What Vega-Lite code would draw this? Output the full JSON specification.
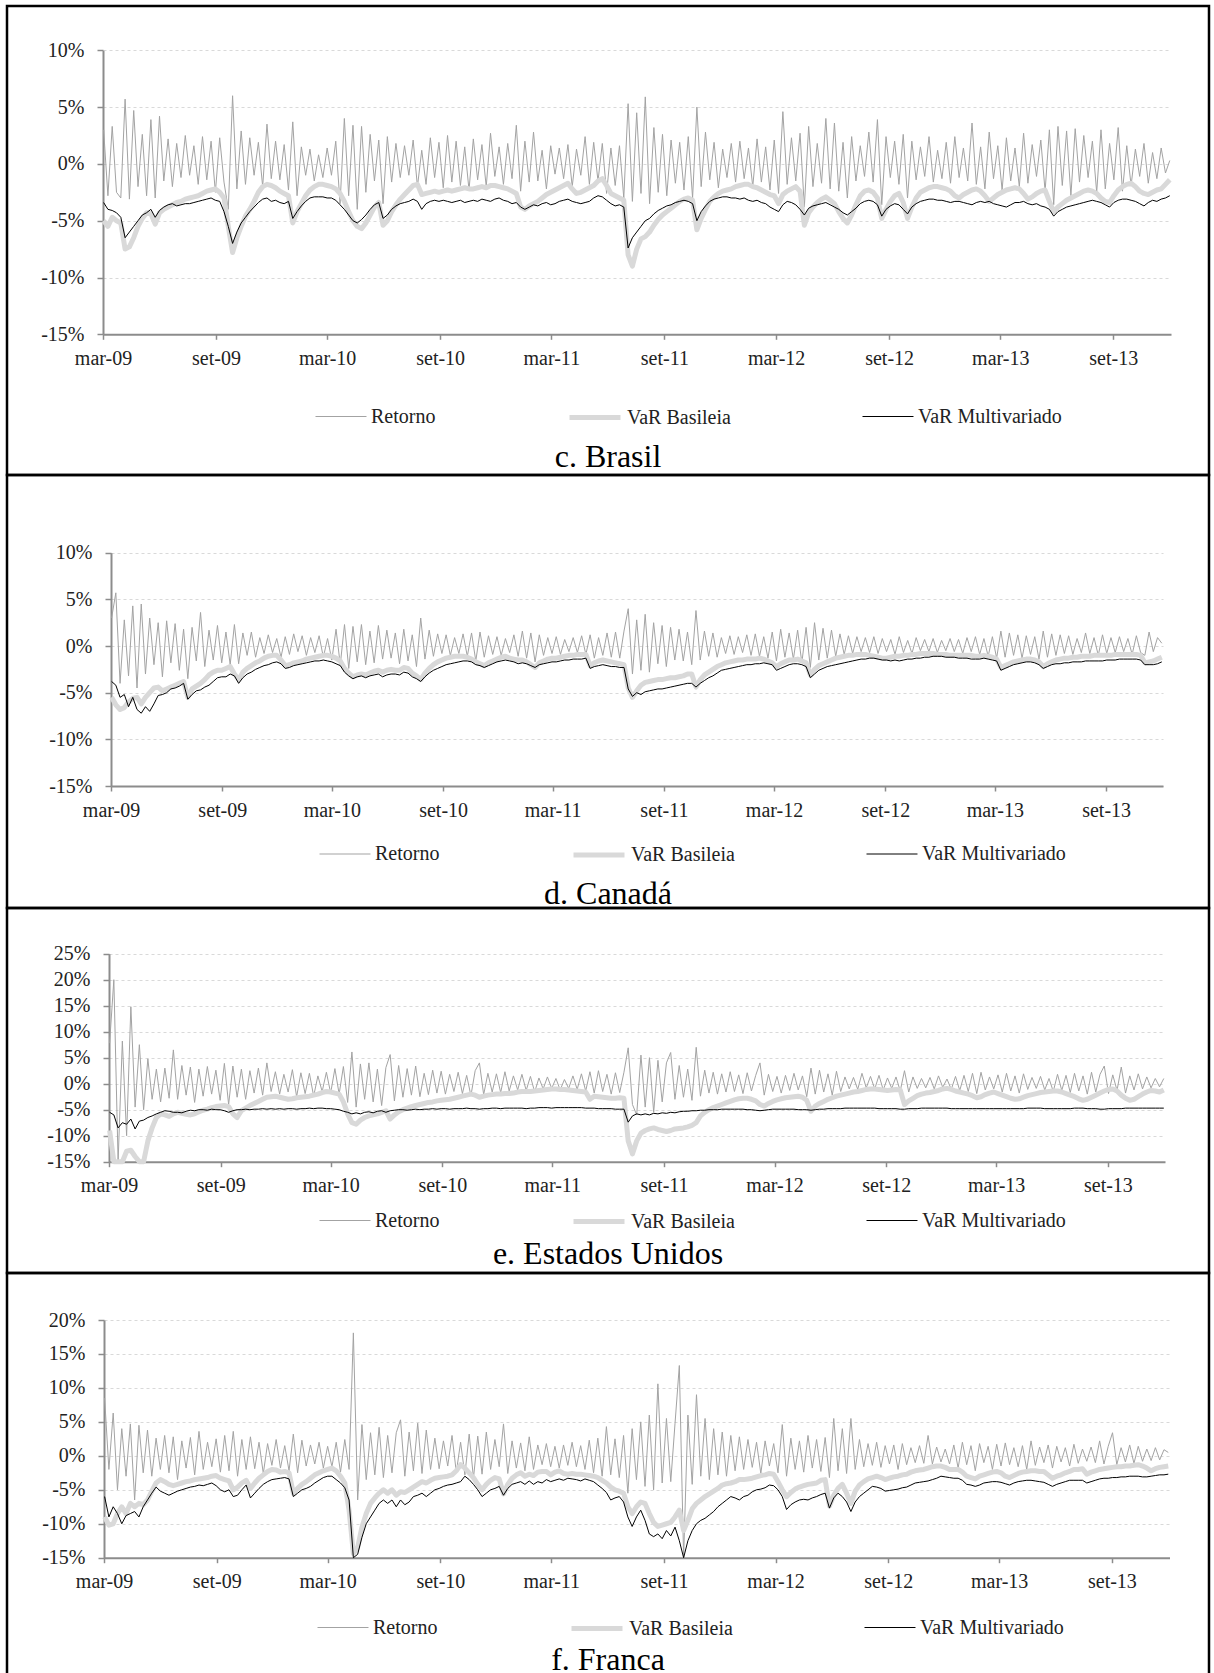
{
"$schema": "https://vega.github.io/schema/vega-lite/v6.json",
"background": "white",
"padding": {"left": 5, "top": 4, "right": 0, "bottom": 0},
"spacing": 0,
"bounds": "flush",
"resolve": {"scale": {"color": "independent", "strokeWidth": "independent"}, "legend": {"color": "independent", "strokeWidth": "independent"}},
"data": {"values": [
{"d":"2009-03-02","cr":3.0,"cb":-5.0,"cm":-3.4,"dr":3.0,"db":-5.5,"dm":-3.8,"er":7.8,"eb":-9.0,"em":-5.5,"fr":8.5,"fb":-9.0,"fm":-6.0},
{"d":"2009-03-09","cr":-2.8,"cb":-5.5,"cm":-4.0,"dr":5.7,"db":-6.3,"dm":-4.2,"er":20.0,"eb":-18.0,"em":-6.0,"fr":-2.0,"fb":-10.2,"fm":-9.0},
{"d":"2009-03-16","cr":3.3,"cb":-4.7,"cm":-4.1,"dr":-4.0,"db":-6.8,"dm":-5.5,"er":-15.5,"eb":-20.0,"em":-8.5,"fr":6.3,"fb":-10.0,"fm":-7.5},
{"d":"2009-03-23","cr":-2.5,"cb":-5.0,"cm":-4.3,"dr":2.8,"db":-6.6,"dm":-5.2,"er":8.2,"eb":-16.0,"em":-7.5,"fr":-5.0,"fb":-8.5,"fm":-8.5},
{"d":"2009-03-30","cr":-3.0,"cb":-5.2,"cm":-4.7,"dr":-3.2,"db":-6.0,"dm":-6.5,"er":-10.0,"eb":-13.0,"em":-7.8,"fr":4.0,"fb":-7.5,"fm":-10.0},
{"d":"2009-04-06","cr":5.7,"cb":-7.5,"cm":-6.5,"dr":4.3,"db":-5.6,"dm":-5.5,"er":14.8,"eb":-12.8,"em":-6.8,"fr":-3.0,"fb":-8.5,"fm":-8.8},
{"d":"2009-04-13","cr":-3.1,"cb":-7.3,"cm":-6.0,"dr":-4.5,"db":-5.5,"dm":-6.8,"er":-4.5,"eb":-14.0,"em":-8.7,"fr":4.7,"fb":-7.0,"fm":-8.5},
{"d":"2009-04-20","cr":4.7,"cb":-6.5,"cm":-5.5,"dr":4.5,"db":-6.2,"dm":-7.2,"er":7.5,"eb":-17.0,"em":-7.2,"fr":-6.5,"fb":-7.5,"fm":-8.2},
{"d":"2009-04-27","cr":-2.0,"cb":-5.5,"cm":-5.0,"dr":-3.0,"db":-5.5,"dm":-6.5,"er":-5.0,"eb":-15.5,"em":-7.0,"fr":4.5,"fb":-7.0,"fm":-9.0},
{"d":"2009-05-04","cr":2.6,"cb":-4.8,"cm":-4.5,"dr":3.0,"db":-5.0,"dm":-7.0,"er":4.8,"eb":-11.0,"em":-6.5,"fr":-2.5,"fb":-7.2,"fm":-7.5},
{"d":"2009-05-11","cr":-2.8,"cb":-4.3,"cm":-4.3,"dr":-2.0,"db":-4.5,"dm":-6.2,"er":-3.0,"eb":-8.5,"em":-6.2,"fr":3.8,"fb":-6.5,"fm":-6.5},
{"d":"2009-05-18","cr":3.9,"cb":-4.4,"cm":-4.0,"dr":2.5,"db":-4.4,"dm":-5.3,"er":2.8,"eb":-6.5,"em":-5.8,"fr":-3.0,"fb":-5.2,"fm":-5.5},
{"d":"2009-05-25","cr":-3.0,"cb":-5.3,"cm":-4.7,"dr":-3.3,"db":-4.8,"dm":-5.2,"er":-3.5,"eb":-5.8,"em":-5.5,"fr":2.6,"fb":-4.0,"fm":-4.6},
{"d":"2009-06-01","cr":4.2,"cb":-4.3,"cm":-4.1,"dr":2.7,"db":-4.6,"dm":-5.0,"er":3.0,"eb":-6.0,"em":-5.2,"fr":-2.0,"fb":-3.5,"fm":-5.2},
{"d":"2009-06-08","cr":-1.5,"cb":-4.0,"cm":-3.8,"dr":-1.8,"db":-4.4,"dm":-4.6,"er":-2.8,"eb":-6.3,"em":-5.3,"fr":3.0,"fb":-3.8,"fm":-5.5},
{"d":"2009-06-15","cr":2.2,"cb":-3.8,"cm":-3.6,"dr":2.4,"db":-4.2,"dm":-4.5,"er":6.5,"eb":-5.8,"em":-5.5,"fr":-2.5,"fb":-4.2,"fm":-5.8},
{"d":"2009-06-22","cr":-2.0,"cb":-3.6,"cm":-3.5,"dr":-2.6,"db":-4.0,"dm":-4.3,"er":-3.0,"eb":-5.5,"em":-5.5,"fr":2.8,"fb":-4.4,"fm":-5.5},
{"d":"2009-06-29","cr":1.8,"cb":-3.4,"cm":-3.7,"dr":1.8,"db":-3.8,"dm":-4.0,"er":3.5,"eb":-5.7,"em":-5.6,"fr":-3.5,"fb":-4.2,"fm":-5.2},
{"d":"2009-07-06","cr":-1.2,"cb":-3.3,"cm":-3.6,"dr":-3.5,"db":-5.5,"dm":-5.7,"er":-2.2,"eb":-5.9,"em":-5.3,"fr":2.2,"fb":-4.0,"fm":-5.0},
{"d":"2009-07-13","cr":2.5,"cb":-3.1,"cm":-3.5,"dr":2.0,"db":-4.6,"dm":-5.2,"er":3.2,"eb":-6.0,"em":-5.1,"fr":-1.8,"fb":-3.8,"fm":-4.8},
{"d":"2009-07-20","cr":-1.0,"cb":-3.0,"cm":-3.5,"dr":-1.6,"db":-4.3,"dm":-4.8,"er":-3.6,"eb":-5.8,"em":-5.2,"fr":2.7,"fb":-3.7,"fm":-4.6},
{"d":"2009-07-27","cr":1.6,"cb":-2.9,"cm":-3.4,"dr":3.6,"db":-4.0,"dm":-4.7,"er":2.8,"eb":-5.4,"em":-5.0,"fr":-2.8,"fb":-3.5,"fm":-4.5},
{"d":"2009-08-03","cr":-1.8,"cb":-2.8,"cm":-3.3,"dr":-2.2,"db":-3.6,"dm":-4.4,"er":-2.4,"eb":-5.1,"em":-5.0,"fr":3.6,"fb":-3.4,"fm":-4.3},
{"d":"2009-08-10","cr":2.4,"cb":-2.6,"cm":-3.2,"dr":1.7,"db":-3.1,"dm":-4.2,"er":3.3,"eb":-4.9,"em":-5.1,"fr":-2.0,"fb":-3.3,"fm":-4.4},
{"d":"2009-08-17","cr":-1.4,"cb":-2.4,"cm":-3.1,"dr":-1.5,"db":-2.8,"dm":-3.8,"er":-2.0,"eb":-4.6,"em":-4.9,"fr":2.0,"fb":-3.2,"fm":-4.2},
{"d":"2009-08-24","cr":2.0,"cb":-2.3,"cm":-3.0,"dr":2.2,"db":-2.6,"dm":-3.4,"er":2.6,"eb":-4.4,"em":-5.0,"fr":-1.6,"fb":-3.0,"fm":-4.0},
{"d":"2009-08-31","cr":-2.5,"cb":-2.2,"cm":-3.2,"dr":-1.8,"db":-2.6,"dm":-3.3,"er":-3.2,"eb":-4.3,"em":-5.0,"fr":2.5,"fb":-2.9,"fm":-4.4},
{"d":"2009-09-07","cr":2.3,"cb":-2.5,"cm":-3.3,"dr":1.5,"db":-2.4,"dm":-3.3,"er":3.9,"eb":-4.2,"em":-5.2,"fr":-2.4,"fb":-3.3,"fm":-5.0},
{"d":"2009-09-14","cr":-1.6,"cb":-3.0,"cm":-4.2,"dr":-2.0,"db":-2.2,"dm":-3.0,"er":-4.0,"eb":-4.4,"em":-5.5,"fr":3.0,"fb":-3.5,"fm":-5.3},
{"d":"2009-09-21","cr":-4.0,"cb":-5.5,"cm":-5.5,"dr":2.3,"db":-3.0,"dm":-3.2,"er":3.4,"eb":-5.8,"em":-5.2,"fr":-2.2,"fb":-3.7,"fm":-5.0},
{"d":"2009-09-28","cr":6.0,"cb":-7.8,"cm":-7.0,"dr":-1.9,"db":-3.6,"dm":-4.0,"er":-2.6,"eb":-6.5,"em":-5.0,"fr":3.6,"fb":-5.0,"fm":-6.0},
{"d":"2009-10-05","cr":-2.2,"cb":-6.5,"cm":-6.0,"dr":1.4,"db":-2.8,"dm":-3.4,"er":2.8,"eb":-5.2,"em":-5.0,"fr":-3.0,"fb":-4.6,"fm":-5.8},
{"d":"2009-10-12","cr":2.9,"cb":-5.5,"cm":-5.2,"dr":-1.0,"db":-2.4,"dm":-3.0,"er":-3.0,"eb":-4.7,"em":-4.9,"fr":2.4,"fb":-4.0,"fm":-5.0},
{"d":"2009-10-19","cr":-1.8,"cb":-4.6,"cm":-4.7,"dr":1.5,"db":-2.1,"dm":-2.8,"er":2.5,"eb":-4.2,"em":-5.0,"fr":-2.0,"fb":-3.6,"fm":-4.3},
{"d":"2009-10-26","cr":2.3,"cb":-4.0,"cm":-4.2,"dr":-1.2,"db":-1.8,"dm":-2.5,"er":-1.8,"eb":-3.8,"em":-4.9,"fr":2.8,"fb":-4.8,"fm":-6.2},
{"d":"2009-11-02","cr":-1.0,"cb":-3.3,"cm":-3.8,"dr":0.9,"db":-1.6,"dm":-2.3,"er":3.0,"eb":-3.4,"em":-4.9,"fr":-1.9,"fb":-4.0,"fm":-5.5},
{"d":"2009-11-09","cr":1.9,"cb":-2.5,"cm":-3.4,"dr":-0.8,"db":-1.3,"dm":-2.1,"er":-2.2,"eb":-3.0,"em":-4.8,"fr":2.0,"fb":-3.3,"fm":-4.8},
{"d":"2009-11-16","cr":-2.0,"cb":-2.0,"cm":-3.1,"dr":1.2,"db":-1.1,"dm":-2.0,"er":4.0,"eb":-2.6,"em":-4.9,"fr":-2.6,"fb":-2.8,"fm":-4.2},
{"d":"2009-11-23","cr":3.5,"cb":-1.8,"cm":-3.0,"dr":-0.7,"db":-1.0,"dm":-1.8,"er":-1.5,"eb":-2.5,"em":-4.8,"fr":1.8,"fb":-2.3,"fm":-3.8},
{"d":"2009-11-30","cr":-1.3,"cb":-1.9,"cm":-3.3,"dr":0.8,"db":-1.0,"dm":-1.7,"er":2.3,"eb":-2.4,"em":-4.9,"fr":-1.4,"fb":-2.0,"fm":-3.5},
{"d":"2009-12-07","cr":2.0,"cb":-2.1,"cm":-3.2,"dr":-1.2,"db":-1.5,"dm":-1.9,"er":-2.0,"eb":-2.6,"em":-4.8,"fr":2.4,"fb":-2.1,"fm":-3.4},
{"d":"2009-12-14","cr":-1.4,"cb":-2.4,"cm":-3.4,"dr":1.0,"db":-2.1,"dm":-2.4,"er":1.8,"eb":-2.8,"em":-4.9,"fr":-1.8,"fb":-2.4,"fm":-3.3},
{"d":"2009-12-21","cr":1.7,"cb":-2.6,"cm":-3.5,"dr":-0.9,"db":-2.0,"dm":-2.3,"er":-1.6,"eb":-3.0,"em":-4.8,"fr":1.5,"fb":-2.3,"fm":-3.2},
{"d":"2009-12-28","cr":-2.3,"cb":-2.8,"cm":-3.3,"dr":1.3,"db":-1.8,"dm":-2.1,"er":2.7,"eb":-2.9,"em":-4.8,"fr":-2.2,"fb":-2.5,"fm":-3.4},
{"d":"2010-01-04","cr":3.7,"cb":-5.2,"cm":-4.8,"dr":-0.6,"db":-1.7,"dm":-2.0,"er":-2.5,"eb":-2.7,"em":-4.9,"fr":3.2,"fb":-5.5,"fm":-6.0},
{"d":"2010-01-11","cr":-2.8,"cb":-4.2,"cm":-4.2,"dr":1.1,"db":-1.6,"dm":-1.9,"er":2.1,"eb":-2.6,"em":-4.8,"fr":-2.5,"fb":-4.8,"fm":-5.5},
{"d":"2010-01-18","cr":1.5,"cb":-3.5,"cm":-3.7,"dr":-1.0,"db":-1.4,"dm":-1.8,"er":-1.9,"eb":-2.5,"em":-4.8,"fr":2.3,"fb":-4.2,"fm":-5.0},
{"d":"2010-01-25","cr":-1.0,"cb":-2.8,"cm":-3.3,"dr":0.9,"db":-1.3,"dm":-1.7,"er":2.0,"eb":-2.4,"em":-4.7,"fr":-1.5,"fb":-3.8,"fm":-4.8},
{"d":"2010-02-01","cr":1.3,"cb":-2.3,"cm":-3.0,"dr":-0.7,"db":-1.2,"dm":-1.6,"er":-2.4,"eb":-2.2,"em":-4.8,"fr":1.6,"fb":-3.3,"fm":-4.5},
{"d":"2010-02-08","cr":-1.5,"cb":-2.0,"cm":-2.9,"dr":1.1,"db":-1.1,"dm":-1.6,"er":1.5,"eb":-2.0,"em":-4.7,"fr":-1.2,"fb":-2.8,"fm":-4.0},
{"d":"2010-02-15","cr":0.8,"cb":-1.8,"cm":-2.9,"dr":-1.2,"db":-1.0,"dm":-1.5,"er":-1.5,"eb":-1.7,"em":-4.7,"fr":2.0,"fb":-2.5,"fm":-3.6},
{"d":"2010-02-22","cr":-1.2,"cb":-1.8,"cm":-2.9,"dr":0.8,"db":-1.0,"dm":-1.6,"er":2.2,"eb":-1.5,"em":-4.8,"fr":-1.8,"fb":-2.2,"fm":-3.2},
{"d":"2010-03-01","cr":1.4,"cb":-1.9,"cm":-3.0,"dr":-1.5,"db":-1.1,"dm":-1.7,"er":-1.8,"eb":-1.6,"em":-4.8,"fr":1.4,"fb":-2.0,"fm":-3.0},
{"d":"2010-03-08","cr":-1.0,"cb":-2.0,"cm":-3.0,"dr":1.8,"db":-1.3,"dm":-1.9,"er":2.9,"eb":-1.8,"em":-4.9,"fr":-1.6,"fb":-1.8,"fm":-3.0},
{"d":"2010-03-15","cr":2.0,"cb":-2.2,"cm":-3.2,"dr":-2.0,"db":-1.6,"dm":-2.1,"er":-2.0,"eb":-2.0,"em":-5.0,"fr":2.0,"fb":-2.2,"fm":-3.5},
{"d":"2010-03-22","cr":-3.5,"cb":-2.6,"cm":-3.6,"dr":2.3,"db":-2.4,"dm":-2.8,"er":3.3,"eb":-3.5,"em":-5.3,"fr":-2.4,"fb":-3.0,"fm":-4.0},
{"d":"2010-03-29","cr":4.0,"cb":-3.3,"cm":-4.0,"dr":-2.4,"db":-2.9,"dm":-3.2,"er":-3.6,"eb":-5.8,"em":-5.5,"fr":2.4,"fb":-4.0,"fm":-4.7},
{"d":"2010-04-05","cr":-2.8,"cb":-4.2,"cm":-4.5,"dr":2.1,"db":-3.3,"dm":-3.5,"er":6.1,"eb":-7.5,"em":-5.8,"fr":-2.0,"fb":-8.0,"fm":-6.5},
{"d":"2010-04-12","cr":3.4,"cb":-5.0,"cm":-5.0,"dr":-1.7,"db":-3.1,"dm":-3.3,"er":-4.5,"eb":-7.8,"em":-5.6,"fr":18.1,"fb":-14.4,"fm":-15.0},
{"d":"2010-04-19","cr":-4.0,"cb":-5.5,"cm":-5.2,"dr":2.3,"db":-3.0,"dm":-3.2,"er":3.8,"eb":-7.0,"em":-5.8,"fr":-6.5,"fb":-13.5,"fm":-14.5},
{"d":"2010-04-26","cr":3.3,"cb":-5.7,"cm":-4.9,"dr":-2.0,"db":-3.1,"dm":-3.4,"er":-3.0,"eb":-6.5,"em":-5.5,"fr":4.6,"fb":-10.5,"fm":-12.0},
{"d":"2010-05-03","cr":-2.5,"cb":-5.2,"cm":-4.5,"dr":1.6,"db":-2.9,"dm":-3.2,"er":4.0,"eb":-6.2,"em":-5.4,"fr":-3.5,"fb":-8.5,"fm":-10.0},
{"d":"2010-05-10","cr":2.6,"cb":-4.5,"cm":-4.0,"dr":-1.8,"db":-2.7,"dm":-3.1,"er":-3.5,"eb":-6.0,"em":-5.6,"fr":3.4,"fb":-7.0,"fm":-9.0},
{"d":"2010-05-17","cr":-1.5,"cb":-3.8,"cm":-3.6,"dr":2.2,"db":-2.6,"dm":-3.0,"er":2.8,"eb":-5.8,"em":-5.3,"fr":-2.8,"fb":-6.2,"fm":-8.0},
{"d":"2010-05-24","cr":2.1,"cb":-3.4,"cm":-3.4,"dr":-1.4,"db":-2.8,"dm":-3.3,"er":-4.2,"eb":-5.5,"em":-5.2,"fr":4.2,"fb":-5.5,"fm":-7.0},
{"d":"2010-05-31","cr":-3.5,"cb":-5.4,"cm":-4.8,"dr":1.7,"db":-2.6,"dm":-3.1,"er":3.1,"eb":-5.2,"em":-5.5,"fr":-3.2,"fb":-5.0,"fm":-6.5},
{"d":"2010-06-07","cr":2.4,"cb":-5.0,"cm":-4.5,"dr":-1.3,"db":-2.5,"dm":-3.0,"er":5.6,"eb":-6.8,"em":-5.2,"fr":3.0,"fb":-5.5,"fm":-7.0},
{"d":"2010-06-14","cr":-1.6,"cb":-4.2,"cm":-4.0,"dr":1.4,"db":-2.6,"dm":-3.0,"er":-3.3,"eb":-6.0,"em":-5.1,"fr":-2.5,"fb":-5.0,"fm":-6.5},
{"d":"2010-06-21","cr":1.8,"cb":-3.6,"cm":-3.7,"dr":-1.9,"db":-2.6,"dm":-3.1,"er":3.5,"eb":-5.4,"em":-5.0,"fr":3.4,"fb":-5.8,"fm":-7.5},
{"d":"2010-06-28","cr":-1.2,"cb":-3.1,"cm":-3.5,"dr":1.8,"db":-2.3,"dm":-2.8,"er":-2.6,"eb":-5.0,"em":-5.0,"fr":5.3,"fb":-5.3,"fm":-6.5},
{"d":"2010-07-05","cr":1.6,"cb":-2.7,"cm":-3.4,"dr":-1.6,"db":-2.4,"dm":-2.9,"er":2.9,"eb":-4.7,"em":-5.1,"fr":-3.0,"fb":-5.4,"fm":-7.2},
{"d":"2010-07-12","cr":-1.0,"cb":-2.3,"cm":-3.3,"dr":1.2,"db":-2.9,"dm":-3.3,"er":-2.2,"eb":-4.4,"em":-5.0,"fr":3.5,"fb":-5.0,"fm":-6.8},
{"d":"2010-07-19","cr":2.1,"cb":-1.9,"cm":-3.1,"dr":-2.2,"db":-3.2,"dm":-3.5,"er":3.4,"eb":-4.2,"em":-4.9,"fr":-2.2,"fb":-4.6,"fm":-6.0},
{"d":"2010-07-26","cr":-2.0,"cb":-1.8,"cm":-3.3,"dr":3.0,"db":-3.6,"dm":-3.8,"er":-2.5,"eb":-4.0,"em":-5.0,"fr":4.8,"fb":-4.2,"fm":-5.8},
{"d":"2010-08-02","cr":1.2,"cb":-2.7,"cm":-4.0,"dr":-1.4,"db":-2.9,"dm":-3.3,"er":2.0,"eb":-3.8,"em":-4.9,"fr":-2.6,"fb":-3.8,"fm":-5.5},
{"d":"2010-08-09","cr":-1.8,"cb":-2.6,"cm":-3.5,"dr":1.7,"db":-2.4,"dm":-2.9,"er":-2.1,"eb":-3.6,"em":-4.9,"fr":3.8,"fb":-4.0,"fm":-6.0},
{"d":"2010-08-16","cr":2.3,"cb":-2.5,"cm":-3.3,"dr":-1.1,"db":-2.0,"dm":-2.6,"er":2.6,"eb":-3.5,"em":-4.8,"fr":-2.0,"fb":-3.6,"fm":-5.5},
{"d":"2010-08-23","cr":-1.2,"cb":-2.4,"cm":-3.2,"dr":1.3,"db":-1.7,"dm":-2.4,"er":-1.8,"eb":-3.3,"em":-4.9,"fr":2.6,"fb":-3.3,"fm":-5.0},
{"d":"2010-08-30","cr":1.9,"cb":-2.5,"cm":-3.3,"dr":-0.8,"db":-1.5,"dm":-2.2,"er":2.4,"eb":-3.2,"em":-4.8,"fr":-1.9,"fb":-3.2,"fm":-4.8},
{"d":"2010-09-06","cr":-2.1,"cb":-2.4,"cm":-3.2,"dr":1.2,"db":-1.3,"dm":-2.0,"er":-2.0,"eb":-3.1,"em":-4.8,"fr":2.2,"fb":-3.1,"fm":-4.5},
{"d":"2010-09-13","cr":2.5,"cb":-2.3,"cm":-3.3,"dr":-1.0,"db":-1.2,"dm":-1.9,"er":1.8,"eb":-3.0,"em":-4.9,"fr":-1.5,"fb":-3.0,"fm":-4.3},
{"d":"2010-09-20","cr":-1.6,"cb":-2.4,"cm":-3.4,"dr":0.9,"db":-1.1,"dm":-1.8,"er":-1.5,"eb":-2.8,"em":-4.8,"fr":3.0,"fb":-2.8,"fm":-4.2},
{"d":"2010-09-27","cr":2.0,"cb":-2.3,"cm":-3.3,"dr":-0.8,"db":-1.1,"dm":-1.7,"er":2.2,"eb":-2.6,"em":-4.8,"fr":-2.4,"fb":-2.2,"fm":-4.0},
{"d":"2010-10-04","cr":-1.9,"cb":-2.2,"cm":-3.2,"dr":1.3,"db":-1.1,"dm":-1.6,"er":-1.9,"eb":-2.4,"em":-4.8,"fr":2.0,"fb":-1.3,"fm":-3.8},
{"d":"2010-10-11","cr":1.5,"cb":-2.1,"cm":-3.4,"dr":-1.1,"db":-1.2,"dm":-1.6,"er":1.6,"eb":-2.2,"em":-4.7,"fr":-2.8,"fb":-1.8,"fm":-3.0},
{"d":"2010-10-18","cr":-2.3,"cb":-2.2,"cm":-3.3,"dr":1.4,"db":-1.4,"dm":-1.7,"er":-2.3,"eb":-2.0,"em":-4.8,"fr":3.2,"fb":-2.5,"fm":-3.5},
{"d":"2010-10-25","cr":2.2,"cb":-2.2,"cm":-3.2,"dr":-1.6,"db":-1.7,"dm":-2.0,"er":2.5,"eb":-2.2,"em":-4.8,"fr":-3.3,"fb":-3.2,"fm":-4.2},
{"d":"2010-11-01","cr":-1.4,"cb":-2.1,"cm":-3.3,"dr":1.5,"db":-1.9,"dm":-2.1,"er":4.0,"eb":-2.6,"em":-4.9,"fr":2.9,"fb":-4.2,"fm":-5.0},
{"d":"2010-11-08","cr":1.7,"cb":-2.0,"cm":-3.1,"dr":-1.2,"db":-2.1,"dm":-2.3,"er":-2.1,"eb":-2.4,"em":-4.8,"fr":-2.7,"fb":-5.0,"fm":-6.0},
{"d":"2010-11-15","cr":-2.0,"cb":-2.1,"cm":-3.2,"dr":1.1,"db":-1.8,"dm":-2.1,"er":2.0,"eb":-2.2,"em":-4.8,"fr":3.5,"fb":-4.2,"fm":-5.5},
{"d":"2010-11-22","cr":2.7,"cb":-1.9,"cm":-3.3,"dr":-0.9,"db":-1.6,"dm":-1.9,"er":-1.6,"eb":-2.1,"em":-4.7,"fr":-2.0,"fb":-3.6,"fm":-5.0},
{"d":"2010-11-29","cr":-1.1,"cb":-1.9,"cm":-3.1,"dr":1.0,"db":-1.4,"dm":-1.7,"er":1.9,"eb":-2.0,"em":-4.7,"fr":2.4,"fb":-3.2,"fm":-4.8},
{"d":"2010-12-06","cr":1.5,"cb":-2.0,"cm":-3.0,"dr":-1.0,"db":-1.2,"dm":-1.6,"er":-1.7,"eb":-2.0,"em":-4.8,"fr":-1.6,"fb":-3.4,"fm":-4.5},
{"d":"2010-12-13","cr":-1.8,"cb":-2.1,"cm":-3.2,"dr":0.8,"db":-1.1,"dm":-1.5,"er":2.3,"eb":-1.9,"em":-4.7,"fr":4.7,"fb":-5.6,"fm":-5.8},
{"d":"2010-12-20","cr":1.8,"cb":-2.2,"cm":-3.3,"dr":-0.7,"db":-1.3,"dm":-1.6,"er":-1.4,"eb":-1.9,"em":-4.7,"fr":-2.6,"fb":-4.2,"fm":-4.8},
{"d":"2010-12-27","cr":-1.3,"cb":-2.4,"cm":-3.5,"dr":1.2,"db":-1.4,"dm":-1.7,"er":1.5,"eb":-1.8,"em":-4.7,"fr":2.2,"fb":-3.3,"fm":-4.2},
{"d":"2011-01-03","cr":3.4,"cb":-2.6,"cm":-3.4,"dr":-1.1,"db":-1.5,"dm":-1.9,"er":-1.2,"eb":-1.6,"em":-4.7,"fr":-1.8,"fb":-2.8,"fm":-4.0},
{"d":"2011-01-10","cr":-2.4,"cb":-3.8,"cm":-3.8,"dr":1.6,"db":-1.5,"dm":-1.8,"er":1.8,"eb":-1.5,"em":-4.7,"fr":1.9,"fb":-2.5,"fm":-3.8},
{"d":"2011-01-17","cr":2.0,"cb":-4.0,"cm":-4.0,"dr":-1.3,"db":-1.7,"dm":-1.9,"er":-1.3,"eb":-1.5,"em":-4.8,"fr":-2.2,"fb":-3.0,"fm":-4.2},
{"d":"2011-01-24","cr":-1.6,"cb":-3.7,"cm":-3.8,"dr":1.4,"db":-2.0,"dm":-2.1,"er":1.4,"eb":-1.5,"em":-4.7,"fr":2.8,"fb":-2.7,"fm":-3.7},
{"d":"2011-01-31","cr":2.8,"cb":-3.5,"cm":-3.6,"dr":-1.7,"db":-2.3,"dm":-2.3,"er":-1.6,"eb":-1.4,"em":-4.7,"fr":-2.0,"fb":-2.9,"fm":-4.2},
{"d":"2011-02-07","cr":-1.5,"cb":-3.3,"cm":-3.7,"dr":1.2,"db":-1.8,"dm":-2.0,"er":1.1,"eb":-1.3,"em":-4.6,"fr":1.6,"fb":-2.4,"fm":-3.8},
{"d":"2011-02-14","cr":1.2,"cb":-3.0,"cm":-3.5,"dr":-1.0,"db":-1.6,"dm":-1.9,"er":-1.0,"eb":-1.2,"em":-4.6,"fr":-1.3,"fb":-2.3,"fm":-4.0},
{"d":"2011-02-21","cr":-2.2,"cb":-2.7,"cm":-3.4,"dr":0.9,"db":-1.4,"dm":-1.8,"er":1.3,"eb":-1.1,"em":-4.6,"fr":1.8,"fb":-2.3,"fm":-3.5},
{"d":"2011-02-28","cr":1.6,"cb":-2.5,"cm":-3.6,"dr":-0.8,"db":-1.3,"dm":-1.7,"er":-0.9,"eb":-1.0,"em":-4.7,"fr":-1.6,"fb":-2.8,"fm":-3.8},
{"d":"2011-03-07","cr":-0.9,"cb":-2.3,"cm":-3.5,"dr":1.0,"db":-1.3,"dm":-1.7,"er":1.0,"eb":-1.0,"em":-4.6,"fr":1.4,"fb":-2.4,"fm":-3.6},
{"d":"2011-03-14","cr":1.4,"cb":-2.1,"cm":-3.3,"dr":-0.9,"db":-1.2,"dm":-1.6,"er":-1.2,"eb":-1.1,"em":-4.6,"fr":-1.8,"fb":-2.2,"fm":-3.4},
{"d":"2011-03-21","cr":-1.3,"cb":-1.9,"cm":-3.2,"dr":0.7,"db":-1.1,"dm":-1.5,"er":0.8,"eb":-1.1,"em":-4.6,"fr":1.6,"fb":-2.6,"fm":-3.6},
{"d":"2011-03-28","cr":1.7,"cb":-1.7,"cm":-3.1,"dr":-0.6,"db":-1.0,"dm":-1.5,"er":-0.9,"eb":-1.2,"em":-4.6,"fr":-1.4,"fb":-2.7,"fm":-3.3},
{"d":"2011-04-04","cr":-2.0,"cb":-2.2,"cm":-3.3,"dr":0.9,"db":-1.0,"dm":-1.4,"er":1.5,"eb":-1.3,"em":-4.6,"fr":2.0,"fb":-2.6,"fm":-3.4},
{"d":"2011-04-11","cr":1.3,"cb":-2.6,"cm":-3.4,"dr":-0.7,"db":-0.9,"dm":-1.4,"er":-1.1,"eb":-1.4,"em":-4.6,"fr":-1.6,"fb":-2.7,"fm":-3.5},
{"d":"2011-04-18","cr":-1.0,"cb":-2.5,"cm":-3.5,"dr":1.1,"db":-0.9,"dm":-1.4,"er":1.9,"eb":-1.5,"em":-4.6,"fr":1.5,"fb":-2.7,"fm":-3.7},
{"d":"2011-04-25","cr":2.4,"cb":-2.3,"cm":-3.4,"dr":-0.9,"db":-0.9,"dm":-1.3,"er":-1.4,"eb":-1.6,"em":-4.7,"fr":-2.0,"fb":-2.8,"fm":-3.4},
{"d":"2011-05-02","cr":-1.8,"cb":-2.1,"cm":-3.3,"dr":1.2,"db":-2.1,"dm":-2.4,"er":2.3,"eb":-3.0,"em":-4.7,"fr":2.3,"fb":-2.9,"fm":-3.6},
{"d":"2011-05-09","cr":1.9,"cb":-1.9,"cm":-3.0,"dr":-1.3,"db":-1.8,"dm":-2.2,"er":-1.8,"eb":-2.4,"em":-4.7,"fr":-2.5,"fb":-3.0,"fm":-3.8},
{"d":"2011-05-16","cr":-1.5,"cb":-1.5,"cm":-2.8,"dr":0.9,"db":-1.6,"dm":-2.1,"er":2.5,"eb":-2.5,"em":-4.8,"fr":2.6,"fb":-3.2,"fm":-4.3},
{"d":"2011-05-23","cr":1.8,"cb":-1.3,"cm":-2.9,"dr":-1.0,"db":-1.5,"dm":-2.0,"er":-1.5,"eb":-2.6,"em":-4.8,"fr":-3.0,"fb":-3.6,"fm":-4.8},
{"d":"2011-05-30","cr":-2.6,"cb":-1.9,"cm":-3.2,"dr":1.4,"db":-1.6,"dm":-2.1,"er":1.8,"eb":-2.7,"em":-4.8,"fr":4.3,"fb":-4.0,"fm":-5.4},
{"d":"2011-06-06","cr":1.4,"cb":-2.6,"cm":-3.5,"dr":-1.2,"db":-1.7,"dm":-2.2,"er":-2.0,"eb":-2.8,"em":-4.8,"fr":-2.8,"fb":-4.6,"fm":-6.5},
{"d":"2011-06-13","cr":-1.9,"cb":-2.8,"cm":-3.7,"dr":1.5,"db":-1.8,"dm":-2.2,"er":2.1,"eb":-2.8,"em":-4.9,"fr":2.5,"fb":-5.0,"fm":-6.2},
{"d":"2011-06-20","cr":1.6,"cb":-3.0,"cm":-3.6,"dr":-1.3,"db":-1.9,"dm":-2.3,"er":-1.7,"eb":-2.7,"em":-4.9,"fr":-3.2,"fb":-5.2,"fm":-6.0},
{"d":"2011-06-27","cr":-3.0,"cb":-3.2,"cm":-3.8,"dr":1.6,"db":-2.0,"dm":-2.3,"er":2.2,"eb":-2.8,"em":-4.9,"fr":3.0,"fb":-5.5,"fm":-6.8},
{"d":"2011-07-04","cr":5.3,"cb":-8.0,"cm":-7.4,"dr":4.0,"db":-4.5,"dm":-4.6,"er":6.9,"eb":-11.0,"em":-7.4,"fr":-5.5,"fb":-7.5,"fm":-9.0},
{"d":"2011-07-11","cr":-3.3,"cb":-9.0,"cm":-6.5,"dr":-3.0,"db":-5.5,"dm":-5.4,"er":-4.0,"eb":-13.5,"em":-6.2,"fr":4.0,"fb":-8.5,"fm":-10.4},
{"d":"2011-07-18","cr":4.5,"cb":-7.5,"cm":-6.0,"dr":2.8,"db":-4.8,"dm":-5.0,"er":-6.0,"eb":-11.0,"em":-5.8,"fr":-3.5,"fb":-7.5,"fm":-9.0},
{"d":"2011-07-25","cr":-2.6,"cb":-6.6,"cm":-5.5,"dr":-2.6,"db":-4.2,"dm":-5.2,"er":5.5,"eb":-9.5,"em":-6.0,"fr":5.0,"fb":-6.8,"fm":-8.0},
{"d":"2011-08-01","cr":5.9,"cb":-6.4,"cm":-5.0,"dr":3.4,"db":-3.9,"dm":-4.9,"er":-4.5,"eb":-9.0,"em":-5.8,"fr":-4.5,"fb":-7.0,"fm":-9.5},
{"d":"2011-08-08","cr":-3.5,"cb":-6.0,"cm":-4.8,"dr":-2.8,"db":-3.8,"dm":-4.8,"er":5.0,"eb":-8.7,"em":-6.0,"fr":6.0,"fb":-8.5,"fm":-11.5},
{"d":"2011-08-15","cr":3.2,"cb":-5.4,"cm":-4.4,"dr":2.5,"db":-3.7,"dm":-4.7,"er":-5.5,"eb":-8.5,"em":-5.7,"fr":-5.0,"fb":-9.8,"fm":-11.9},
{"d":"2011-08-22","cr":-2.5,"cb":-4.9,"cm":-4.1,"dr":-1.9,"db":-3.6,"dm":-4.6,"er":4.5,"eb":-8.8,"em":-5.8,"fr":10.6,"fb":-10.4,"fm":-11.5},
{"d":"2011-08-29","cr":2.6,"cb":-4.5,"cm":-3.9,"dr":2.2,"db":-3.6,"dm":-4.6,"er":-3.5,"eb":-9.0,"em":-5.6,"fr":-4.0,"fb":-10.2,"fm":-12.2},
{"d":"2011-09-05","cr":-2.8,"cb":-4.2,"cm":-3.7,"dr":-2.2,"db":-3.5,"dm":-4.5,"er":4.0,"eb":-9.2,"em":-5.7,"fr":5.5,"fb":-10.0,"fm":-11.0},
{"d":"2011-09-12","cr":2.1,"cb":-3.9,"cm":-3.6,"dr":2.0,"db":-3.4,"dm":-4.4,"er":6.0,"eb":-9.0,"em":-5.5,"fr":-3.8,"fb":-9.8,"fm":-11.8},
{"d":"2011-09-19","cr":-1.7,"cb":-3.6,"cm":-3.4,"dr":-1.5,"db":-3.4,"dm":-4.3,"er":-3.0,"eb":-8.7,"em":-5.6,"fr":4.8,"fb":-9.0,"fm":-10.5},
{"d":"2011-09-26","cr":1.9,"cb":-3.3,"cm":-3.3,"dr":1.8,"db":-3.3,"dm":-4.2,"er":3.5,"eb":-8.6,"em":-5.4,"fr":13.3,"fb":-8.0,"fm":-12.5},
{"d":"2011-10-03","cr":-2.3,"cb":-3.1,"cm":-3.2,"dr":-1.6,"db":-3.2,"dm":-4.1,"er":-2.6,"eb":-8.5,"em":-5.3,"fr":-15.0,"fb":-11.0,"fm":-15.0},
{"d":"2011-10-10","cr":2.4,"cb":-3.0,"cm":-3.3,"dr":1.5,"db":-3.0,"dm":-4.0,"er":2.8,"eb":-8.3,"em":-5.3,"fr":6.0,"fb":-9.5,"fm":-12.5},
{"d":"2011-10-17","cr":-3.0,"cb":-3.2,"cm":-3.5,"dr":-2.0,"db":-3.0,"dm":-4.0,"er":-3.2,"eb":-8.0,"em":-5.2,"fr":-4.2,"fb":-7.8,"fm":-11.0},
{"d":"2011-10-24","cr":5.0,"cb":-5.8,"cm":-5.0,"dr":3.8,"db":-4.4,"dm":-4.4,"er":7.0,"eb":-7.5,"em":-5.2,"fr":9.0,"fb":-7.0,"fm":-10.0},
{"d":"2011-10-31","cr":-2.0,"cb":-4.8,"cm":-4.2,"dr":-1.5,"db":-3.6,"dm":-4.0,"er":-2.4,"eb":-6.2,"em":-5.1,"fr":-3.0,"fb":-6.5,"fm":-9.5},
{"d":"2011-11-07","cr":2.8,"cb":-4.0,"cm":-3.7,"dr":1.6,"db":-3.1,"dm":-3.7,"er":2.6,"eb":-5.5,"em":-5.1,"fr":5.5,"fb":-6.0,"fm":-9.2},
{"d":"2011-11-14","cr":-1.4,"cb":-3.3,"cm":-3.3,"dr":-1.1,"db":-2.8,"dm":-3.4,"er":-1.8,"eb":-5.0,"em":-5.0,"fr":-3.5,"fb":-5.6,"fm":-8.7},
{"d":"2011-11-21","cr":1.9,"cb":-2.9,"cm":-3.1,"dr":1.4,"db":-2.5,"dm":-3.2,"er":2.2,"eb":-4.6,"em":-5.0,"fr":4.0,"fb":-5.2,"fm":-8.2},
{"d":"2011-11-28","cr":-2.1,"cb":-2.6,"cm":-3.0,"dr":-1.2,"db":-2.2,"dm":-2.9,"er":-2.0,"eb":-4.3,"em":-5.0,"fr":-2.8,"fb":-4.8,"fm":-7.5},
{"d":"2011-12-05","cr":1.3,"cb":-2.4,"cm":-2.9,"dr":0.9,"db":-2.0,"dm":-2.6,"er":1.9,"eb":-4.0,"em":-4.9,"fr":3.5,"fb":-4.3,"fm":-7.0},
{"d":"2011-12-12","cr":-1.2,"cb":-2.3,"cm":-2.9,"dr":-0.8,"db":-1.8,"dm":-2.5,"er":-1.6,"eb":-3.7,"em":-4.9,"fr":-3.0,"fb":-4.1,"fm":-6.5},
{"d":"2011-12-19","cr":1.8,"cb":-2.2,"cm":-3.0,"dr":1.1,"db":-1.7,"dm":-2.4,"er":2.3,"eb":-3.4,"em":-4.9,"fr":3.0,"fb":-4.0,"fm":-6.0},
{"d":"2011-12-26","cr":-1.6,"cb":-2.0,"cm":-3.0,"dr":-0.9,"db":-1.6,"dm":-2.3,"er":-1.5,"eb":-3.1,"em":-4.9,"fr":-2.2,"fb":-3.8,"fm":-6.2},
{"d":"2012-01-02","cr":2.0,"cb":-1.9,"cm":-3.1,"dr":1.0,"db":-1.5,"dm":-2.2,"er":1.7,"eb":-2.9,"em":-4.9,"fr":2.8,"fb":-3.5,"fm":-6.5},
{"d":"2012-01-09","cr":-1.3,"cb":-1.8,"cm":-3.0,"dr":-0.7,"db":-1.5,"dm":-2.1,"er":-1.9,"eb":-2.8,"em":-4.9,"fr":-2.0,"fb":-3.5,"fm":-6.0},
{"d":"2012-01-16","cr":1.4,"cb":-1.8,"cm":-3.2,"dr":1.2,"db":-1.4,"dm":-2.0,"er":2.1,"eb":-2.8,"em":-5.0,"fr":2.4,"fb":-3.4,"fm":-5.8},
{"d":"2012-01-23","cr":-2.0,"cb":-2.0,"cm":-3.3,"dr":-1.0,"db":-1.4,"dm":-2.0,"er":-1.4,"eb":-3.0,"em":-5.0,"fr":-1.7,"fb":-3.3,"fm":-5.3},
{"d":"2012-01-30","cr":2.2,"cb":-2.1,"cm":-3.2,"dr":1.3,"db":-1.4,"dm":-1.9,"er":1.6,"eb":-3.3,"em":-5.1,"fr":2.0,"fb":-3.1,"fm":-5.0},
{"d":"2012-02-06","cr":-1.6,"cb":-2.3,"cm":-3.4,"dr":-1.1,"db":-1.3,"dm":-1.9,"er":4.0,"eb":-4.0,"em":-5.2,"fr":-2.6,"fb":-2.9,"fm":-4.9},
{"d":"2012-02-13","cr":1.5,"cb":-2.5,"cm":-3.5,"dr":1.0,"db":-1.4,"dm":-1.8,"er":-2.2,"eb":-4.3,"em":-5.1,"fr":2.2,"fb":-2.8,"fm":-4.7},
{"d":"2012-02-20","cr":-2.3,"cb":-2.7,"cm":-3.8,"dr":-1.3,"db":-1.6,"dm":-1.9,"er":1.8,"eb":-3.8,"em":-5.0,"fr":-1.5,"fb":-2.6,"fm":-4.3},
{"d":"2012-02-27","cr":2.1,"cb":-2.8,"cm":-4.0,"dr":1.5,"db":-1.8,"dm":-2.0,"er":-1.5,"eb":-3.4,"em":-4.9,"fr":1.8,"fb":-2.7,"fm":-4.4},
{"d":"2012-03-05","cr":-2.6,"cb":-3.5,"cm":-4.2,"dr":-1.6,"db":-2.2,"dm":-2.6,"er":1.4,"eb":-3.1,"em":-4.9,"fr":-2.5,"fb":-3.8,"fm":-5.0},
{"d":"2012-03-12","cr":4.6,"cb":-2.7,"cm":-3.6,"dr":1.8,"db":-1.9,"dm":-2.4,"er":-1.8,"eb":-2.9,"em":-4.9,"fr":4.6,"fb":-5.0,"fm":-6.0},
{"d":"2012-03-19","cr":-1.8,"cb":-2.4,"cm":-3.3,"dr":-1.2,"db":-1.7,"dm":-2.2,"er":1.6,"eb":-2.7,"em":-4.9,"fr":-3.0,"fb":-6.0,"fm":-7.9},
{"d":"2012-03-26","cr":2.3,"cb":-2.2,"cm":-3.4,"dr":1.4,"db":-1.5,"dm":-2.0,"er":-1.3,"eb":-2.6,"em":-4.9,"fr":2.6,"fb":-5.4,"fm":-7.2},
{"d":"2012-04-02","cr":-1.5,"cb":-2.0,"cm":-3.6,"dr":-1.4,"db":-1.5,"dm":-1.9,"er":2.0,"eb":-2.5,"em":-4.9,"fr":-2.0,"fb":-4.9,"fm":-6.8},
{"d":"2012-04-09","cr":2.7,"cb":-2.4,"cm":-4.0,"dr":1.7,"db":-1.4,"dm":-1.9,"er":-1.2,"eb":-2.4,"em":-5.0,"fr":2.2,"fb":-4.6,"fm":-6.5},
{"d":"2012-04-16","cr":-3.8,"cb":-5.4,"cm":-4.5,"dr":-1.8,"db":-1.6,"dm":-2.0,"er":1.5,"eb":-2.6,"em":-5.0,"fr":-2.4,"fb":-4.4,"fm":-6.4},
{"d":"2012-04-23","cr":3.3,"cb":-4.3,"cm":-3.9,"dr":2.0,"db":-1.8,"dm":-2.2,"er":-2.5,"eb":-3.2,"em":-5.0,"fr":3.0,"fb":-4.2,"fm":-6.5},
{"d":"2012-04-30","cr":-2.0,"cb":-3.8,"cm":-3.7,"dr":-2.3,"db":-3.1,"dm":-3.4,"er":3.0,"eb":-5.3,"em":-5.1,"fr":-1.8,"fb":-4.1,"fm":-6.2},
{"d":"2012-05-07","cr":1.8,"cb":-3.4,"cm":-3.6,"dr":2.5,"db":-2.5,"dm":-3.0,"er":-2.0,"eb":-4.3,"em":-5.0,"fr":2.4,"fb":-4.0,"fm":-6.0},
{"d":"2012-05-14","cr":-1.7,"cb":-3.1,"cm":-3.5,"dr":-1.5,"db":-2.1,"dm":-2.6,"er":2.6,"eb":-3.8,"em":-4.9,"fr":-2.3,"fb":-3.6,"fm":-5.7},
{"d":"2012-05-21","cr":4.0,"cb":-2.9,"cm":-3.4,"dr":1.9,"db":-1.9,"dm":-2.4,"er":-1.6,"eb":-3.4,"em":-4.9,"fr":2.7,"fb":-3.5,"fm":-5.5},
{"d":"2012-05-28","cr":-2.2,"cb":-3.2,"cm":-3.6,"dr":-1.3,"db":-1.7,"dm":-2.2,"er":1.9,"eb":-3.0,"em":-4.8,"fr":-3.2,"fb":-7.4,"fm":-7.7},
{"d":"2012-06-04","cr":3.6,"cb":-3.5,"cm":-3.8,"dr":1.7,"db":-1.5,"dm":-2.1,"er":-2.2,"eb":-2.7,"em":-4.8,"fr":5.5,"fb":-5.8,"fm":-6.2},
{"d":"2012-06-11","cr":-2.4,"cb":-4.2,"cm":-4.0,"dr":-1.1,"db":-1.3,"dm":-2.0,"er":2.4,"eb":-2.4,"em":-4.8,"fr":-2.2,"fb":-4.8,"fm":-5.5},
{"d":"2012-06-18","cr":1.9,"cb":-4.8,"cm":-4.3,"dr":1.3,"db":-1.2,"dm":-1.9,"er":-1.5,"eb":-2.2,"em":-4.8,"fr":4.0,"fb":-4.2,"fm":-6.0},
{"d":"2012-06-25","cr":-3.0,"cb":-5.2,"cm":-4.5,"dr":-0.9,"db":-1.1,"dm":-1.8,"er":1.3,"eb":-2.0,"em":-4.7,"fr":-2.6,"fb":-5.5,"fm":-6.8},
{"d":"2012-07-02","cr":2.4,"cb":-4.5,"cm":-4.2,"dr":1.1,"db":-1.0,"dm":-1.7,"er":-1.0,"eb":-1.8,"em":-4.7,"fr":5.5,"fb":-7.0,"fm":-8.2},
{"d":"2012-07-09","cr":-1.5,"cb":-3.6,"cm":-3.9,"dr":-0.8,"db":-1.0,"dm":-1.6,"er":1.2,"eb":-1.6,"em":-4.7,"fr":-2.0,"fb":-5.2,"fm":-6.8},
{"d":"2012-07-16","cr":1.6,"cb":-2.8,"cm":-3.5,"dr":1.0,"db":-0.9,"dm":-1.5,"er":-1.1,"eb":-1.5,"em":-4.7,"fr":2.4,"fb":-4.3,"fm":-6.0},
{"d":"2012-07-23","cr":-1.1,"cb":-2.4,"cm":-3.3,"dr":-0.6,"db":-0.9,"dm":-1.4,"er":2.0,"eb":-1.3,"em":-4.7,"fr":-1.6,"fb":-3.8,"fm":-5.5},
{"d":"2012-07-30","cr":2.8,"cb":-2.3,"cm":-3.2,"dr":0.9,"db":-0.9,"dm":-1.4,"er":-0.8,"eb":-1.1,"em":-4.7,"fr":1.8,"fb":-3.4,"fm":-5.0},
{"d":"2012-08-06","cr":-1.6,"cb":-2.5,"cm":-3.3,"dr":-0.7,"db":-1.0,"dm":-1.3,"er":1.4,"eb":-1.0,"em":-4.7,"fr":-1.4,"fb":-3.2,"fm":-4.5},
{"d":"2012-08-13","cr":3.9,"cb":-3.0,"cm":-3.6,"dr":1.0,"db":-1.1,"dm":-1.3,"er":-1.0,"eb":-1.0,"em":-4.7,"fr":2.0,"fb":-3.0,"fm":-4.6},
{"d":"2012-08-20","cr":-3.6,"cb":-4.8,"cm":-4.6,"dr":-0.8,"db":-1.2,"dm":-1.4,"er":1.6,"eb":-1.1,"em":-4.8,"fr":-1.7,"fb":-3.2,"fm":-4.8},
{"d":"2012-08-27","cr":2.4,"cb":-4.0,"cm":-4.0,"dr":0.8,"db":-1.3,"dm":-1.5,"er":-1.2,"eb":-1.2,"em":-4.8,"fr":1.5,"fb":-3.5,"fm":-5.2},
{"d":"2012-09-03","cr":-1.2,"cb":-3.3,"cm":-3.7,"dr":-0.6,"db":-1.3,"dm":-1.5,"er":1.1,"eb":-1.3,"em":-4.8,"fr":-1.2,"fb":-3.3,"fm":-5.1},
{"d":"2012-09-10","cr":2.0,"cb":-2.8,"cm":-3.5,"dr":0.7,"db":-1.2,"dm":-1.6,"er":-0.9,"eb":-1.2,"em":-4.8,"fr":1.6,"fb":-3.1,"fm":-5.0},
{"d":"2012-09-17","cr":-1.8,"cb":-2.6,"cm":-3.6,"dr":-0.9,"db":-1.1,"dm":-1.5,"er":1.3,"eb":-1.1,"em":-4.8,"fr":-2.0,"fb":-3.0,"fm":-4.9},
{"d":"2012-09-24","cr":2.6,"cb":-3.4,"cm":-4.0,"dr":1.0,"db":-1.1,"dm":-1.6,"er":-1.4,"eb":-1.2,"em":-4.9,"fr":1.8,"fb":-2.8,"fm":-4.7},
{"d":"2012-10-01","cr":-3.0,"cb":-4.8,"cm":-4.4,"dr":-0.7,"db":-1.0,"dm":-1.5,"er":2.5,"eb":-4.0,"em":-4.9,"fr":-1.3,"fb":-2.7,"fm":-4.6},
{"d":"2012-10-08","cr":2.0,"cb":-3.8,"cm":-3.8,"dr":0.6,"db":-1.0,"dm":-1.4,"er":-1.6,"eb":-3.3,"em":-4.8,"fr":1.2,"fb":-2.4,"fm":-4.3},
{"d":"2012-10-15","cr":-1.4,"cb":-3.0,"cm":-3.5,"dr":-0.8,"db":-0.9,"dm":-1.4,"er":1.3,"eb":-2.8,"em":-4.8,"fr":-1.0,"fb":-2.2,"fm":-4.0},
{"d":"2012-10-22","cr":1.5,"cb":-2.5,"cm":-3.3,"dr":0.9,"db":-0.9,"dm":-1.3,"er":-0.9,"eb":-2.3,"em":-4.8,"fr":1.5,"fb":-2.1,"fm":-3.9},
{"d":"2012-10-29","cr":-1.1,"cb":-2.3,"cm":-3.2,"dr":-0.5,"db":-0.8,"dm":-1.3,"er":1.0,"eb":-2.0,"em":-4.7,"fr":-1.1,"fb":-2.0,"fm":-3.8},
{"d":"2012-11-05","cr":2.4,"cb":-2.1,"cm":-3.1,"dr":0.7,"db":-0.8,"dm":-1.2,"er":-0.8,"eb":-1.8,"em":-4.7,"fr":3.0,"fb":-1.8,"fm":-3.7},
{"d":"2012-11-12","cr":-1.6,"cb":-2.0,"cm":-3.1,"dr":-0.6,"db":-0.8,"dm":-1.2,"er":1.2,"eb":-1.7,"em":-4.7,"fr":-1.2,"fb":-1.6,"fm":-3.5},
{"d":"2012-11-19","cr":1.2,"cb":-2.0,"cm":-3.2,"dr":0.8,"db":-0.8,"dm":-1.1,"er":-1.0,"eb":-1.5,"em":-4.7,"fr":1.3,"fb":-1.5,"fm":-3.3},
{"d":"2012-11-26","cr":-1.3,"cb":-2.1,"cm":-3.2,"dr":-0.7,"db":-0.9,"dm":-1.1,"er":1.5,"eb":-1.3,"em":-4.7,"fr":-0.9,"fb":-1.5,"fm":-3.0},
{"d":"2012-12-03","cr":1.9,"cb":-2.2,"cm":-3.3,"dr":0.6,"db":-0.9,"dm":-1.1,"er":-0.7,"eb":-1.0,"em":-4.7,"fr":1.0,"fb":-1.7,"fm":-3.1},
{"d":"2012-12-10","cr":-1.7,"cb":-2.4,"cm":-3.4,"dr":-0.5,"db":-0.9,"dm":-1.2,"er":0.9,"eb":-0.9,"em":-4.7,"fr":-1.2,"fb":-2.0,"fm":-3.2},
{"d":"2012-12-17","cr":2.4,"cb":-2.8,"cm":-3.3,"dr":0.8,"db":-1.0,"dm":-1.2,"er":-1.1,"eb":-1.1,"em":-4.8,"fr":1.6,"fb":-2.0,"fm":-3.3},
{"d":"2012-12-24","cr":-1.2,"cb":-3.0,"cm":-3.3,"dr":-0.6,"db":-1.0,"dm":-1.2,"er":1.4,"eb":-1.4,"em":-4.8,"fr":-1.8,"fb":-2.0,"fm":-3.3},
{"d":"2012-12-31","cr":1.4,"cb":-2.7,"cm":-3.4,"dr":0.7,"db":-1.0,"dm":-1.3,"er":-1.3,"eb":-1.6,"em":-4.8,"fr":2.0,"fb":-2.4,"fm":-3.6},
{"d":"2013-01-07","cr":-1.5,"cb":-2.5,"cm":-3.5,"dr":-0.8,"db":-1.0,"dm":-1.3,"er":1.6,"eb":-1.8,"em":-4.8,"fr":-1.3,"fb":-3.0,"fm":-4.2},
{"d":"2013-01-14","cr":3.6,"cb":-2.3,"cm":-3.6,"dr":0.9,"db":-1.0,"dm":-1.3,"er":-1.5,"eb":-2.0,"em":-4.8,"fr":1.5,"fb":-3.2,"fm":-4.3},
{"d":"2013-01-21","cr":-1.8,"cb":-2.2,"cm":-3.4,"dr":-0.6,"db":-1.0,"dm":-1.4,"er":2.0,"eb":-2.3,"em":-4.8,"fr":-2.2,"fb":-3.4,"fm":-4.5},
{"d":"2013-01-28","cr":1.5,"cb":-2.4,"cm":-3.3,"dr":1.0,"db":-1.1,"dm":-1.4,"er":-1.9,"eb":-2.7,"em":-4.8,"fr":1.8,"fb":-3.0,"fm":-4.3},
{"d":"2013-02-04","cr":-2.2,"cb":-2.8,"cm":-3.4,"dr":-0.9,"db":-1.1,"dm":-1.4,"er":2.2,"eb":-2.5,"em":-4.8,"fr":-1.0,"fb":-2.8,"fm":-4.0},
{"d":"2013-02-11","cr":2.8,"cb":-3.3,"cm":-3.3,"dr":0.8,"db":-1.0,"dm":-1.3,"er":-1.2,"eb":-2.1,"em":-4.8,"fr":1.4,"fb":-2.6,"fm":-3.9},
{"d":"2013-02-18","cr":-1.3,"cb":-3.0,"cm":-3.5,"dr":-1.1,"db":-1.1,"dm":-1.4,"er":1.3,"eb":-1.8,"em":-4.8,"fr":-2.0,"fb":-2.4,"fm":-3.8},
{"d":"2013-02-25","cr":1.6,"cb":-2.7,"cm":-3.6,"dr":1.0,"db":-1.2,"dm":-1.5,"er":-1.0,"eb":-1.6,"em":-4.8,"fr":1.7,"fb":-2.3,"fm":-3.8},
{"d":"2013-03-04","cr":-2.3,"cb":-2.5,"cm":-3.7,"dr":-1.3,"db":-1.4,"dm":-1.6,"er":1.7,"eb":-1.9,"em":-4.8,"fr":-1.5,"fb":-2.5,"fm":-3.9},
{"d":"2013-03-11","cr":2.3,"cb":-2.3,"cm":-3.8,"dr":1.6,"db":-2.3,"dm":-2.6,"er":-1.6,"eb":-2.2,"em":-4.8,"fr":1.9,"fb":-3.0,"fm":-4.1},
{"d":"2013-03-18","cr":-1.5,"cb":-2.2,"cm":-3.6,"dr":-1.2,"db":-2.1,"dm":-2.4,"er":2.0,"eb":-2.5,"em":-4.8,"fr":-1.3,"fb":-3.2,"fm":-4.3},
{"d":"2013-03-25","cr":1.4,"cb":-2.1,"cm":-3.4,"dr":1.4,"db":-1.9,"dm":-2.2,"er":-1.4,"eb":-2.8,"em":-4.8,"fr":1.2,"fb":-2.9,"fm":-4.0},
{"d":"2013-04-01","cr":-2.0,"cb":-2.2,"cm":-3.4,"dr":-1.0,"db":-1.7,"dm":-2.0,"er":1.5,"eb":-3.0,"em":-4.8,"fr":-1.6,"fb":-2.6,"fm":-3.8},
{"d":"2013-04-08","cr":2.7,"cb":-2.6,"cm":-3.3,"dr":1.2,"db":-1.6,"dm":-1.9,"er":-1.8,"eb":-2.9,"em":-4.8,"fr":1.5,"fb":-2.4,"fm":-3.7},
{"d":"2013-04-15","cr":-1.7,"cb":-3.1,"cm":-3.5,"dr":-1.3,"db":-1.5,"dm":-1.8,"er":1.9,"eb":-2.6,"em":-4.8,"fr":-2.0,"fb":-2.3,"fm":-3.6},
{"d":"2013-04-22","cr":1.7,"cb":-2.9,"cm":-3.6,"dr":1.1,"db":-1.4,"dm":-1.7,"er":-1.1,"eb":-2.3,"em":-4.7,"fr":2.2,"fb":-2.2,"fm":-3.6},
{"d":"2013-04-29","cr":-1.1,"cb":-2.6,"cm":-3.5,"dr":-0.9,"db":-1.4,"dm":-1.7,"er":1.2,"eb":-2.1,"em":-4.7,"fr":-1.4,"fb":-2.2,"fm":-3.7},
{"d":"2013-05-06","cr":2.1,"cb":-2.4,"cm":-3.7,"dr":1.0,"db":-1.5,"dm":-1.8,"er":-0.9,"eb":-1.9,"em":-4.7,"fr":1.3,"fb":-2.3,"fm":-3.8},
{"d":"2013-05-13","cr":-2.4,"cb":-2.3,"cm":-3.8,"dr":-1.4,"db":-1.7,"dm":-2.0,"er":1.4,"eb":-1.7,"em":-4.7,"fr":-1.0,"fb":-2.3,"fm":-3.9},
{"d":"2013-05-20","cr":3.0,"cb":-3.3,"cm":-4.0,"dr":1.6,"db":-2.2,"dm":-2.4,"er":-1.2,"eb":-1.6,"em":-4.8,"fr":1.6,"fb":-2.8,"fm":-4.2},
{"d":"2013-05-27","cr":-3.6,"cb":-4.2,"cm":-4.6,"dr":-1.2,"db":-1.9,"dm":-2.2,"er":1.0,"eb":-1.5,"em":-4.8,"fr":-1.8,"fb":-3.3,"fm":-4.5},
{"d":"2013-06-03","cr":3.3,"cb":-3.8,"cm":-4.2,"dr":1.3,"db":-1.7,"dm":-2.0,"er":-1.5,"eb":-1.4,"em":-4.8,"fr":1.4,"fb":-3.0,"fm":-4.2},
{"d":"2013-06-10","cr":-1.9,"cb":-3.5,"cm":-4.0,"dr":-1.0,"db":-1.5,"dm":-1.9,"er":1.8,"eb":-1.4,"em":-4.8,"fr":-0.9,"fb":-2.8,"fm":-4.0},
{"d":"2013-06-17","cr":2.9,"cb":-3.2,"cm":-3.8,"dr":1.2,"db":-1.4,"dm":-1.9,"er":-1.3,"eb":-1.6,"em":-4.8,"fr":1.2,"fb":-2.5,"fm":-3.8},
{"d":"2013-06-24","cr":-2.8,"cb":-3.0,"cm":-3.7,"dr":-0.8,"db":-1.3,"dm":-1.8,"er":1.6,"eb":-1.9,"em":-4.8,"fr":-1.5,"fb":-2.3,"fm":-3.6},
{"d":"2013-07-01","cr":3.1,"cb":-2.8,"cm":-3.6,"dr":1.1,"db":-1.3,"dm":-1.8,"er":-1.7,"eb":-2.2,"em":-4.8,"fr":1.7,"fb":-2.0,"fm":-3.6},
{"d":"2013-07-08","cr":-1.6,"cb":-2.6,"cm":-3.5,"dr":-0.9,"db":-1.2,"dm":-1.7,"er":2.0,"eb":-2.5,"em":-4.7,"fr":-1.1,"fb":-2.0,"fm":-3.6},
{"d":"2013-07-15","cr":2.5,"cb":-2.4,"cm":-3.4,"dr":0.8,"db":-1.2,"dm":-1.7,"er":-1.4,"eb":-2.9,"em":-4.7,"fr":1.0,"fb":-1.9,"fm":-3.6},
{"d":"2013-07-22","cr":-1.2,"cb":-2.3,"cm":-3.3,"dr":-0.7,"db":-1.1,"dm":-1.7,"er":1.5,"eb":-3.2,"em":-4.7,"fr":-0.8,"fb":-2.7,"fm":-4.0},
{"d":"2013-07-29","cr":2.0,"cb":-2.4,"cm":-3.2,"dr":1.4,"db":-1.1,"dm":-1.6,"er":-2.0,"eb":-3.0,"em":-4.8,"fr":1.3,"fb":-2.4,"fm":-3.8},
{"d":"2013-08-05","cr":-2.5,"cb":-2.6,"cm":-3.3,"dr":-0.8,"db":-1.1,"dm":-1.6,"er":2.2,"eb":-2.6,"em":-4.8,"fr":-1.0,"fb":-2.2,"fm":-3.6},
{"d":"2013-08-12","cr":3.0,"cb":-3.0,"cm":-3.4,"dr":0.9,"db":-1.0,"dm":-1.6,"er":-1.6,"eb":-2.2,"em":-4.8,"fr":2.2,"fb":-2.0,"fm":-3.4},
{"d":"2013-08-19","cr":-2.2,"cb":-3.3,"cm":-3.6,"dr":-1.0,"db":-1.0,"dm":-1.6,"er":1.8,"eb":-1.8,"em":-4.9,"fr":-1.2,"fb":-1.9,"fm":-3.3},
{"d":"2013-08-26","cr":1.8,"cb":-3.4,"cm":-3.8,"dr":1.2,"db":-1.0,"dm":-1.6,"er":3.4,"eb":-1.4,"em":-4.9,"fr":1.4,"fb":-1.8,"fm":-3.3},
{"d":"2013-09-02","cr":-1.4,"cb":-2.8,"cm":-3.4,"dr":-0.8,"db":-1.0,"dm":-1.5,"er":-1.9,"eb":-1.1,"em":-4.8,"fr":3.4,"fb":-1.7,"fm":-3.2},
{"d":"2013-09-09","cr":3.2,"cb":-2.3,"cm":-3.2,"dr":0.9,"db":-1.0,"dm":-1.5,"er":1.7,"eb":-1.0,"em":-4.8,"fr":-1.3,"fb":-1.6,"fm":-3.2},
{"d":"2013-09-16","cr":-2.4,"cb":-2.0,"cm":-3.1,"dr":-0.7,"db":-0.9,"dm":-1.5,"er":-1.3,"eb":-1.4,"em":-4.8,"fr":1.2,"fb":-1.6,"fm":-3.1},
{"d":"2013-09-23","cr":1.6,"cb":-1.8,"cm":-3.1,"dr":1.0,"db":-0.9,"dm":-1.4,"er":3.2,"eb":-2.2,"em":-4.8,"fr":-0.9,"fb":-1.5,"fm":-3.1},
{"d":"2013-09-30","cr":-1.9,"cb":-1.7,"cm":-3.2,"dr":-0.6,"db":-0.9,"dm":-1.4,"er":-1.8,"eb":-2.8,"em":-4.7,"fr":1.6,"fb":-1.5,"fm":-3.0},
{"d":"2013-10-07","cr":1.3,"cb":-2.0,"cm":-3.3,"dr":0.8,"db":-0.9,"dm":-1.4,"er":1.5,"eb":-3.2,"em":-4.7,"fr":-1.1,"fb":-1.4,"fm":-3.0},
{"d":"2013-10-14","cr":-1.1,"cb":-2.4,"cm":-3.5,"dr":-0.9,"db":-0.9,"dm":-1.4,"er":-1.2,"eb":-3.0,"em":-4.7,"fr":1.4,"fb":-1.3,"fm":-3.0},
{"d":"2013-10-21","cr":1.8,"cb":-2.6,"cm":-3.7,"dr":1.1,"db":-0.9,"dm":-1.4,"er":1.9,"eb":-2.5,"em":-4.7,"fr":-0.8,"fb":-1.5,"fm":-3.1},
{"d":"2013-10-28","cr":-1.7,"cb":-2.7,"cm":-3.4,"dr":-0.7,"db":-1.0,"dm":-1.5,"er":-1.0,"eb":-2.0,"em":-4.7,"fr":1.0,"fb":-1.8,"fm":-3.1},
{"d":"2013-11-04","cr":1.0,"cb":-2.5,"cm":-3.2,"dr":-1.0,"db":-1.8,"dm":-2.0,"er":1.3,"eb":-1.6,"em":-4.7,"fr":-0.7,"fb":-2.2,"fm":-3.0},
{"d":"2013-11-11","cr":-1.3,"cb":-2.3,"cm":-3.3,"dr":1.5,"db":-1.7,"dm":-2.0,"er":-0.8,"eb":-1.3,"em":-4.7,"fr":1.2,"fb":-1.9,"fm":-2.9},
{"d":"2013-11-18","cr":1.4,"cb":-2.2,"cm":-3.1,"dr":-0.6,"db":-1.6,"dm":-2.0,"er":1.0,"eb":-1.4,"em":-4.7,"fr":-0.6,"fb":-1.7,"fm":-2.8},
{"d":"2013-11-25","cr":-0.8,"cb":-1.8,"cm":-3.0,"dr":0.9,"db":-1.4,"dm":-1.9,"er":-0.6,"eb":-1.6,"em":-4.7,"fr":0.9,"fb":-1.6,"fm":-2.8},
{"d":"2013-12-02","cr":0.3,"cb":-1.4,"cm":-2.8,"dr":0.3,"db":-1.2,"dm":-1.7,"er":1.0,"eb":-1.2,"em":-4.7,"fr":0.5,"fb":-1.5,"fm":-2.7}
]},
"vconcat": [
{
"width": 1202, "height": 469,
"transform": [{"fold": ["cr", "cb", "cm"], "as": ["s", "v"]}],
"title": {"text": "c. Brasil", "offset": -33},
"mark": {"type": "line"},
"encoding": {
"x": {"field": "d", "type": "temporal", "title": null,
"scale": {"domain": [{"year": 2009, "month": 3, "date": 1, "utc": true}, {"year": 2013, "month": 12, "date": 4, "utc": true}], "range": [96, 1164]},
"axis": {"offset": -140.7, "values": [{"year":2009,"month":3,"date":1,"utc":true},{"year":2009,"month":9,"date":1,"utc":true},{"year":2010,"month":3,"date":1,"utc":true},{"year":2010,"month":9,"date":1,"utc":true},{"year":2011,"month":3,"date":1,"utc":true},{"year":2011,"month":9,"date":1,"utc":true},{"year":2012,"month":3,"date":1,"utc":true},{"year":2012,"month":9,"date":1,"utc":true},{"year":2013,"month":3,"date":1,"utc":true},{"year":2013,"month":9,"date":1,"utc":true}], "labelExpr": "(utcmonth(datum.value) == 2 ? 'mar-' : 'set-') + utcFormat(datum.value, '%y')"}},
"y": {"field": "v", "type": "quantitative", "title": null,
"scale": {"domain": [-15, 10], "range": [328.3, 44.3], "clamp": true, "nice": false, "zero": false},
"axis": {"offset": -96, "values": [-15, -10, -5, 0, 5, 10], "labelExpr": "datum.value + '%'"}},
"color": {"field": "s", "type": "nominal", "scale": {"domain": ["cr", "cb", "cm"], "range": ["#a3a3a3", "#d9d9d9", "#000000"]},
"legend": {"title": null, "legendX": 308, "legendY": 383.5, "labelExpr": "datum.value == 'cr' ? 'Retorno' : datum.value == 'cb' ? 'VaR Basileia' : 'VaR Multivariado'"}},
"strokeWidth": {"field": "s", "type": "nominal", "scale": {"type": "ordinal", "domain": ["cr", "cb", "cm"], "range": [1, 5, 1]},
"legend": {"title": null, "legendX": 308, "legendY": 383.5, "labelExpr": "datum.value == 'cr' ? 'Retorno' : datum.value == 'cb' ? 'VaR Basileia' : 'VaR Multivariado'"}}
}
},
{
"width": 1202, "height": 433,
"transform": [{"fold": ["dr", "db", "dm"], "as": ["s", "v"]}],
"title": {"text": "d. Canadá", "offset": -29},
"mark": {"type": "line"},
"encoding": {
"x": {"field": "d", "type": "temporal", "title": null,
"scale": {"domain": [{"year": 2009, "month": 3, "date": 1, "utc": true}, {"year": 2013, "month": 12, "date": 4, "utc": true}], "range": [104, 1156]},
"axis": {"offset": -122, "values": [{"year":2009,"month":3,"date":1,"utc":true},{"year":2009,"month":9,"date":1,"utc":true},{"year":2010,"month":3,"date":1,"utc":true},{"year":2010,"month":9,"date":1,"utc":true},{"year":2011,"month":3,"date":1,"utc":true},{"year":2011,"month":9,"date":1,"utc":true},{"year":2012,"month":3,"date":1,"utc":true},{"year":2012,"month":9,"date":1,"utc":true},{"year":2013,"month":3,"date":1,"utc":true},{"year":2013,"month":9,"date":1,"utc":true}], "labelExpr": "(utcmonth(datum.value) == 2 ? 'mar-' : 'set-') + utcFormat(datum.value, '%y')"}},
"y": {"field": "v", "type": "quantitative", "title": null,
"scale": {"domain": [-15, 10], "range": [311, 77.7], "clamp": true, "nice": false, "zero": false},
"axis": {"offset": -104, "values": [-15, -10, -5, 0, 5, 10], "labelExpr": "datum.value + '%'"}},
"color": {"field": "s", "type": "nominal", "scale": {"domain": ["dr", "db", "dm"], "range": ["#a3a3a3", "#d9d9d9", "#000000"]},
"legend": {"title": null, "legendX": 312, "legendY": 352, "labelExpr": "datum.value == 'dr' ? 'Retorno' : datum.value == 'db' ? 'VaR Basileia' : 'VaR Multivariado'"}},
"strokeWidth": {"field": "s", "type": "nominal", "scale": {"type": "ordinal", "domain": ["dr", "db", "dm"], "range": [1, 5, 1]},
"legend": {"title": null, "legendX": 312, "legendY": 352, "labelExpr": "datum.value == 'dr' ? 'Retorno' : datum.value == 'db' ? 'VaR Basileia' : 'VaR Multivariado'"}}
}
},
{
"width": 1202, "height": 365,
"transform": [{"fold": ["er", "eb", "em"], "as": ["s", "v"]}],
"title": {"text": "e. Estados Unidos", "offset": -34.5},
"mark": {"type": "line"},
"encoding": {
"x": {"field": "d", "type": "temporal", "title": null,
"scale": {"domain": [{"year": 2009, "month": 3, "date": 1, "utc": true}, {"year": 2013, "month": 12, "date": 4, "utc": true}], "range": [102, 1158]},
"axis": {"offset": -111.3, "values": [{"year":2009,"month":3,"date":1,"utc":true},{"year":2009,"month":9,"date":1,"utc":true},{"year":2010,"month":3,"date":1,"utc":true},{"year":2010,"month":9,"date":1,"utc":true},{"year":2011,"month":3,"date":1,"utc":true},{"year":2011,"month":9,"date":1,"utc":true},{"year":2012,"month":3,"date":1,"utc":true},{"year":2012,"month":9,"date":1,"utc":true},{"year":2013,"month":3,"date":1,"utc":true},{"year":2013,"month":9,"date":1,"utc":true}], "labelExpr": "(utcmonth(datum.value) == 2 ? 'mar-' : 'set-') + utcFormat(datum.value, '%y')"}},
"y": {"field": "v", "type": "quantitative", "title": null,
"scale": {"domain": [-15, 25], "range": [253.7, 45.7], "clamp": true, "nice": false, "zero": false},
"axis": {"offset": -102, "values": [-15, -10, -5, 0, 5, 10, 15, 20, 25], "labelExpr": "datum.value + '%'"}},
"color": {"field": "s", "type": "nominal", "scale": {"domain": ["er", "eb", "em"], "range": ["#a3a3a3", "#d9d9d9", "#000000"]},
"legend": {"title": null, "legendX": 312, "legendY": 285.5, "labelExpr": "datum.value == 'er' ? 'Retorno' : datum.value == 'eb' ? 'VaR Basileia' : 'VaR Multivariado'"}},
"strokeWidth": {"field": "s", "type": "nominal", "scale": {"type": "ordinal", "domain": ["er", "eb", "em"], "range": [1, 5, 1]},
"legend": {"title": null, "legendX": 312, "legendY": 285.5, "labelExpr": "datum.value == 'er' ? 'Retorno' : datum.value == 'eb' ? 'VaR Basileia' : 'VaR Multivariado'"}}
}
},
{
"width": 1202, "height": 430,
"transform": [{"fold": ["fr", "fb", "fm"], "as": ["s", "v"]}],
"title": {"text": "f. Franca", "offset": -58},
"mark": {"type": "line"},
"encoding": {
"x": {"field": "d", "type": "temporal", "title": null,
"scale": {"domain": [{"year": 2009, "month": 3, "date": 1, "utc": true}, {"year": 2013, "month": 12, "date": 4, "utc": true}], "range": [97, 1162.5]},
"axis": {"offset": -145.3, "values": [{"year":2009,"month":3,"date":1,"utc":true},{"year":2009,"month":9,"date":1,"utc":true},{"year":2010,"month":3,"date":1,"utc":true},{"year":2010,"month":9,"date":1,"utc":true},{"year":2011,"month":3,"date":1,"utc":true},{"year":2011,"month":9,"date":1,"utc":true},{"year":2012,"month":3,"date":1,"utc":true},{"year":2012,"month":9,"date":1,"utc":true},{"year":2013,"month":3,"date":1,"utc":true},{"year":2013,"month":9,"date":1,"utc":true}], "labelExpr": "(utcmonth(datum.value) == 2 ? 'mar-' : 'set-') + utcFormat(datum.value, '%y')"}},
"y": {"field": "v", "type": "quantitative", "title": null,
"scale": {"domain": [-15, 20], "range": [284.7, 47], "clamp": true, "nice": false, "zero": false},
"axis": {"offset": -97, "values": [-15, -10, -5, 0, 5, 10, 15, 20], "labelExpr": "datum.value + '%'"}},
"color": {"field": "s", "type": "nominal", "scale": {"domain": ["fr", "fb", "fm"], "range": ["#a3a3a3", "#d9d9d9", "#000000"]},
"legend": {"title": null, "legendX": 310, "legendY": 327.5, "labelExpr": "datum.value == 'fr' ? 'Retorno' : datum.value == 'fb' ? 'VaR Basileia' : 'VaR Multivariado'"}},
"strokeWidth": {"field": "s", "type": "nominal", "scale": {"type": "ordinal", "domain": ["fr", "fb", "fm"], "range": [1, 5, 1]},
"legend": {"title": null, "legendX": 310, "legendY": 327.5, "labelExpr": "datum.value == 'fr' ? 'Retorno' : datum.value == 'fb' ? 'VaR Basileia' : 'VaR Multivariado'"}}
}
}
],
"config": {
"view": {"stroke": "#000000", "strokeWidth": 2.5},
"font": "Liberation Serif",
"axis": {"domainColor": "#8c8c8c", "domainWidth": 2, "tickColor": "#8c8c8c", "tickWidth": 1.5, "labelFont": "Liberation Serif", "labelFontSize": 20, "labelColor": "#222222", "gridColor": "#d9d9d9", "gridDash": [3, 3], "gridWidth": 1},
"axisX": {"grid": false, "tickSize": 5, "labelPadding": 9, "labelAngle": 0, "labelOverlap": false, "labelFlush": false},
"axisY": {"grid": true, "tickSize": 6, "labelPadding": 13, "labelOverlap": false},
"legend": {"orient": "none", "direction": "horizontal", "symbolType": "stroke", "symbolSize": 2600, "labelFont": "Liberation Serif", "labelFontSize": 20, "labelColor": "#222222", "columnPadding": 131, "labelOffset": 4, "padding": 0},
"title": {"font": "Liberation Serif", "fontSize": 32, "fontWeight": "normal", "color": "#000000", "orient": "bottom", "anchor": "middle", "frame": "group", "baseline": "alphabetic"},
"line": {"strokeJoin": "round"}
}
}
